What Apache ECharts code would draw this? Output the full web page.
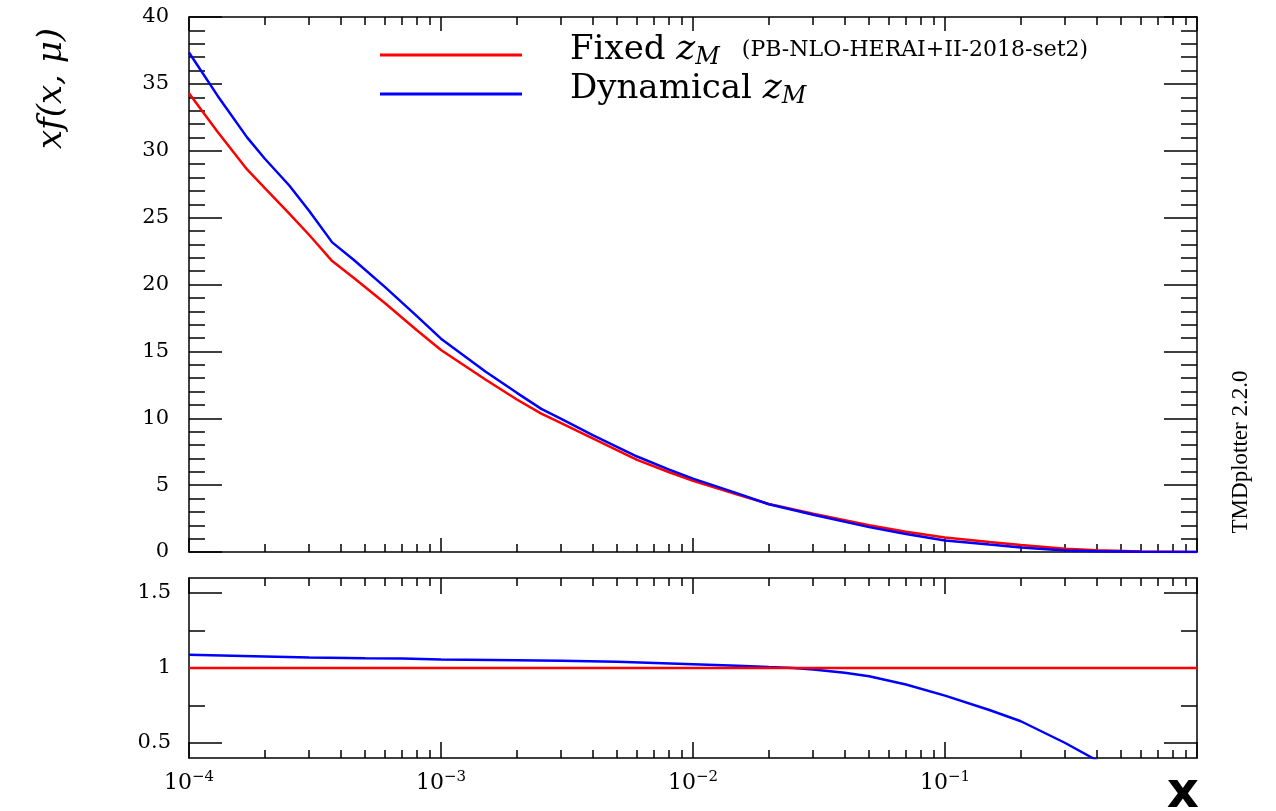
<!DOCTYPE html>
<html>
<head>
<meta charset="utf-8">
<script src="https://cdn.jsdelivr.net/npm/echarts@6/dist/echarts.min.js"></script>
<style>
html, body { margin: 0; padding: 0; background: #fff; }
#chart { width: 1276px; height: 811px; }
</style>
</head>
<body>
<div id="chart"></div>
<script>
// x f(x, mu) for the two z_M choices, sampled in x
const xPoints = [1e-4, 1.3e-4, 1.7e-4, 2e-4, 2.5e-4, 3e-4, 3.7e-4, 4.5e-4, 6e-4, 8e-4,
  1e-3, 1.5e-3, 2e-3, 2.5e-3, 3e-3, 4e-3, 6e-3, 8e-3, 1e-2, 1.5e-2, 2e-2, 3e-2,
  5e-2, 7e-2, 0.1, 0.15, 0.2, 0.3, 0.4, 0.6, 1];
const fixedZM = [34.3, 31.4, 28.6, 27.2, 25.3, 23.7, 21.75, 20.5, 18.6, 16.6,
  15.1, 12.9, 11.4, 10.35, 9.63, 8.49, 6.89, 5.98, 5.33, 4.30, 3.59, 2.87,
  2.0, 1.52, 1.08, 0.74, 0.53, 0.24, 0.14, 0.04, 0];
const dynamicalZM = [37.35, 34.1, 31.0, 29.4, 27.4, 25.5, 23.15, 21.85, 19.8, 17.65,
  15.95, 13.5, 11.9, 10.7, 9.95, 8.74, 7.14, 6.18, 5.49, 4.38, 3.57, 2.78,
  1.86, 1.35, 0.86, 0.555, 0.345, 0.12, 0.05, 0.01, 0];

// ratio to the fixed z_M curve
const ratioFixedX = [1e-4, 1e-3, 1e-2, 1e-1, 1];
const ratioFixed = [1, 1, 1, 1, 1];
const ratioX = [1e-4, 2e-4, 3e-4, 5e-4, 7e-4, 1e-3, 2e-3, 3e-3, 5e-3, 1e-2, 1.5e-2,
  2e-2, 2.5e-2, 3e-2, 4e-2, 5e-2, 7e-2, 0.1, 0.15, 0.2, 0.3, 0.4, 0.5];
const ratioDynamical = [1.089, 1.077, 1.07, 1.065, 1.063, 1.057, 1.052, 1.048, 1.042, 1.025, 1.015,
  1.006, 1.0, 0.99, 0.968, 0.945, 0.89, 0.816, 0.72, 0.645, 0.50, 0.385, 0.30];

// series / legend text
const seriesNames = ['Fixed', 'Dynamical'];
const legendNotes = ['(PB-NLO-HERAI+II-2018-set2)', ''];
const seriesColors = ['#ff0000', '#0000ff'];

// tick positions
const decadeTicks = [1e-4, 1e-3, 1e-2, 1e-1, 1];
const decadeLabels = [1e-4, 1e-3, 1e-2, 1e-1];
const minorXTicks = [];
for (let e = -4; e < 0; e++) {
  for (let k = 2; k <= 9; k++) minorXTicks.push(k * Math.pow(10, e));
}
const ratioTicks = [0.5, 1, 1.5];
const ratioMinorTicks = [0.75, 1.25];

const serif = 'DejaVu Serif';
const black = { color: '#000', width: 1.5 };

function pairs(xs, ys) { return xs.map((x, i) => [x, ys[i]]); }

// four x axes per panel: bottom major/minor, top major/minor
function xAxesFor(grid, majorLen, minorLen, withLabels) {
  const base = { type: 'log', logBase: 10, gridIndex: grid, min: 1e-4, max: 1,
    splitLine: { show: false }, minorSplitLine: { show: false } };
  const axes = [];
  ['bottom', 'top'].forEach(pos => {
    const major = Object.assign({}, base, {
      position: pos,
      axisLine: { show: true, lineStyle: black },
      axisTick: { show: true, inside: true, length: majorLen, customValues: decadeTicks, lineStyle: black },
      axisLabel: { show: false }
    });
    if (withLabels && pos === 'bottom') {
      major.axisLabel = {
        show: true, customValues: decadeLabels, margin: 12,
        formatter: v => {
          const p = Math.round(Math.log10(v));
          return '{b|10}{e|' + (p < 0 ? '\u2212' + (-p) : p) + '}';
        },
        rich: {
          b: { fontFamily: serif, fontSize: 22, color: '#000', lineHeight: 26 },
          e: { fontFamily: serif, fontSize: 15, color: '#000', lineHeight: 16, verticalAlign: 'top' }
        }
      };
    }
    axes.push(major);
    axes.push(Object.assign({}, base, {
      position: pos,
      axisLine: { show: false },
      axisTick: { show: true, inside: true, length: minorLen, customValues: minorXTicks, lineStyle: black },
      axisLabel: { show: false }
    }));
  });
  return axes;
}

const tickLabel = { fontFamily: serif, fontSize: 21, color: '#000' };

const yAxes = [
  // top panel, left
  { type: 'value', gridIndex: 0, position: 'left', min: 0, max: 40, interval: 5,
    axisLine: { show: true, lineStyle: black },
    axisTick: { show: true, inside: true, length: 33, lineStyle: black },
    minorTick: { show: true, splitNumber: 5, length: 16, lineStyle: black },
    axisLabel: Object.assign({ margin: 20 }, tickLabel),
    splitLine: { show: false },
    name: 'xf(x, \u03bc)', nameLocation: 'middle', nameRotate: 90, nameGap: 120,
    nameTextStyle: { fontFamily: serif, fontStyle: 'italic', fontSize: 34, color: '#000',
      padding: [0, 0, 0, 392] } },
  // top panel, right
  { type: 'value', gridIndex: 0, position: 'right', min: 0, max: 40, interval: 5,
    axisLine: { show: true, lineStyle: black },
    axisTick: { show: true, inside: true, length: 33, lineStyle: black },
    minorTick: { show: true, splitNumber: 5, length: 16, lineStyle: black },
    axisLabel: { show: false }, splitLine: { show: false } },
  // ratio panel, left
  { type: 'value', gridIndex: 1, position: 'left', min: 0.4, max: 1.6,
    axisLine: { show: true, lineStyle: black },
    axisTick: { show: true, inside: true, length: 33, customValues: ratioTicks, lineStyle: black },
    axisLabel: Object.assign({ margin: 18, customValues: ratioTicks }, tickLabel),
    splitLine: { show: false } },
  { type: 'value', gridIndex: 1, position: 'left', min: 0.4, max: 1.6,
    axisLine: { show: false },
    axisTick: { show: true, inside: true, length: 16, customValues: ratioMinorTicks, lineStyle: black },
    axisLabel: { show: false }, splitLine: { show: false } },
  // ratio panel, right
  { type: 'value', gridIndex: 1, position: 'right', min: 0.4, max: 1.6,
    axisLine: { show: true, lineStyle: black },
    axisTick: { show: true, inside: true, length: 33, customValues: ratioTicks, lineStyle: black },
    axisLabel: { show: false }, splitLine: { show: false } },
  { type: 'value', gridIndex: 1, position: 'right', min: 0.4, max: 1.6,
    axisLine: { show: false },
    axisTick: { show: true, inside: true, length: 16, customValues: ratioMinorTicks, lineStyle: black },
    axisLabel: { show: false }, splitLine: { show: false } }
];

const xAxes = xAxesFor(0, 14, 8, false).concat(xAxesFor(1, 16, 8, true));

function legendFor(i, top) {
  return {
    data: [seriesNames[i]], left: 380, top: top, padding: 0,
    icon: 'rect', itemWidth: 142, itemHeight: 3,
    formatter: name => {
      const k = seriesNames.indexOf(name);
      let s = '{g|}{t|' + name + ' }{z|z}{s|M}';
      if (legendNotes[k]) s += '{n|' + legendNotes[k] + '}';
      return s;
    },
    textStyle: {
      padding: [0, 0, 10, 0],
      rich: {
        g: { width: 43, lineHeight: 40 },
        t: { fontFamily: serif, fontSize: 34, lineHeight: 40, color: '#000' },
        z: { fontFamily: serif, fontStyle: 'italic', fontSize: 36, lineHeight: 40, color: '#000' },
        s: { fontFamily: serif, fontStyle: 'italic', fontSize: 24, lineHeight: 28, color: '#000', verticalAlign: 'bottom' },
        n: { fontFamily: serif, fontSize: 22, lineHeight: 40, color: '#000', padding: [0, 0, 0, 22] }
      }
    }
  };
}

const lineSeries = (name, color, xIdx, yIdx, data) => ({
  type: 'line', name: name, xAxisIndex: xIdx, yAxisIndex: yIdx, data: data,
  symbol: 'none', showSymbol: false, clip: true,
  lineStyle: { color: color, width: 2.5 }, itemStyle: { color: color }
});

const chart = echarts.init(document.getElementById('chart'), null, { renderer: 'canvas' });
chart.setOption({
  animation: false,
  backgroundColor: '#fff',
  grid: [
    { left: 189, top: 17, width: 1008, height: 535 },
    { left: 189, top: 578, width: 1008, height: 180 }
  ],
  xAxis: xAxes,
  yAxis: yAxes,
  legend: [legendFor(0, 32), legendFor(1, 71)],
  graphic: [
    { type: 'text', x: 1241, y: 452, rotation: Math.PI / 2,
      style: { text: 'TMDplotter 2.2.0', fontFamily: 'Liberation Serif', fontSize: 23,
        fill: '#000', align: 'center', verticalAlign: 'middle' } },
    // x-axis title
    { type: 'text', x: 1183, y: 794,
      style: { text: 'x', fontFamily: 'DejaVu Sans', fontWeight: 'bold', fontSize: 50,
        fill: '#000', align: 'center', verticalAlign: 'middle' } }
  ],
  series: [
    lineSeries(seriesNames[0], seriesColors[0], 0, 0, pairs(xPoints, fixedZM)),
    lineSeries(seriesNames[1], seriesColors[1], 0, 0, pairs(xPoints, dynamicalZM)),
    lineSeries(seriesNames[1], seriesColors[1], 4, 2, pairs(ratioX, ratioDynamical)),
    lineSeries(seriesNames[0], seriesColors[0], 4, 2, pairs(ratioFixedX, ratioFixed))
  ]
});
</script>
</body>
</html>
